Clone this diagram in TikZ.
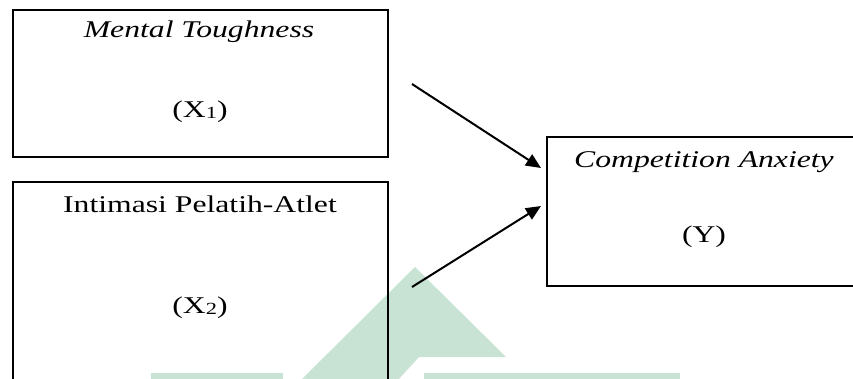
\documentclass[tikz,border=0pt]{standalone}
\usepackage{fontspec}
\setmainfont[FakeStretch=1.32]{Liberation Serif}
\usetikzlibrary{arrows.meta}
\definecolor{wmgreen}{RGB}{200,226,212}
\newcommand{\mysub}[1]{\raisebox{-1.5pt}{\fontsize{17}{17}\selectfont #1}}
\begin{document}
\begin{tikzpicture}[x=1pt,y=-1pt,
  box/.style={draw, line width=2pt, inner sep=0pt},
  lbl/.style={font=\fontsize{24}{28}\selectfont, anchor=base, inner sep=0pt},
  conn/.style={line width=2pt, -{Triangle[length=15pt,width=13pt]}},
  wm/.style={fill=wmgreen, draw=none}]
\useasboundingbox (0,0) rectangle (853,378);
% watermark
\fill[wm] (415,267) -- (506,357) -- (419,357) -- (398,380) -- (301,380) -- cycle;
\fill[wm] (151,373) rectangle (283,380);
\fill[wm] (424,373) rectangle (680,380);
% boxes
\node[box, minimum width=375pt, minimum height=147pt] (x1) at (200.5,83.5) {};
\node[box, minimum width=375pt, minimum height=238pt] (x2) at (200.5,301) {};
\node[box, minimum width=314pt, minimum height=149pt] (y) at (704,211.5) {};
% labels
\node[lbl] (t1) at (199,37) {\textit{Mental Toughness}};
\node[lbl] (t1b) at (200,117) {(X\mysub{1})};
\node[lbl] (t2) at (200,212) {Intimasi Pelatih-Atlet};
\node[lbl] (t2b) at (200,313) {(X\mysub{2})};
\node[lbl] (t3) at (704,167) {\textit{Competition Anxiety}};
\node[lbl] (t3b) at (704,242) {(Y)};
% connectors
\coordinate (a1s) at (412,84);
\coordinate (a1e) at (541,168);
\coordinate (a2s) at (412,287);
\coordinate (a2e) at (541,206);
\draw[conn] (a1s) -- (a1e);
\draw[conn] (a2s) -- (a2e);
\end{tikzpicture}
\end{document}
